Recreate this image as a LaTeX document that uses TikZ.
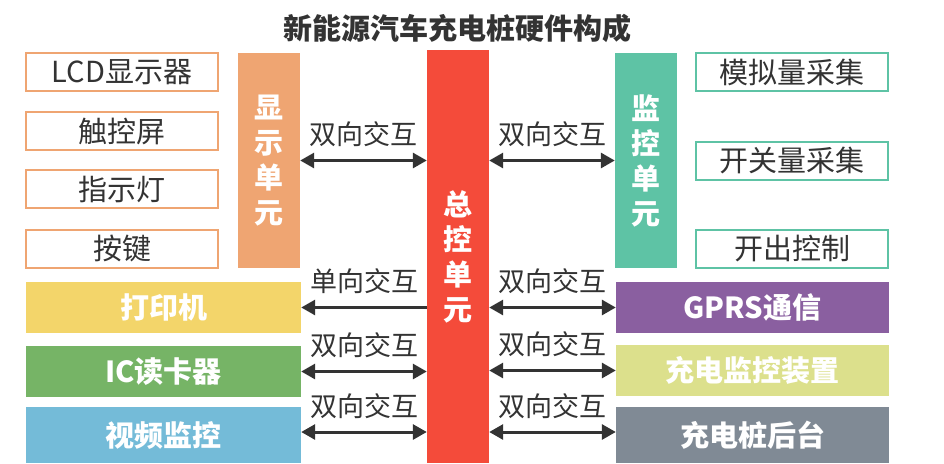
\documentclass[tikz,border=0pt]{standalone}
\usepackage{fontspec}
\setmainfont{Noto Sans CJK SC}
\usetikzlibrary{arrows.meta, positioning, calc}
\definecolor{pileOrange}{HTML}{EFA572}
\definecolor{pileRed}{HTML}{F44B3A}
\definecolor{pileTeal}{HTML}{5EC3A5}
\definecolor{pileYellow}{HTML}{F3D56A}
\definecolor{pileGreen}{HTML}{76B466}
\definecolor{pileBlue}{HTML}{74BBD8}
\definecolor{pilePurple}{HTML}{8A5FA0}
\definecolor{pileLime}{HTML}{DCE08C}
\definecolor{pileSlate}{HTML}{808A95}
\definecolor{pileText}{HTML}{333333}
\tikzset{
  outbox/.style  = {draw=#1, line width=2pt, fill=white, minimum width=192pt,
                    minimum height=38pt, inner sep=0pt,
                    font=\fontsize{29}{35}\selectfont, text=pileText},
  colbar/.style  = {fill=#1, inner sep=0pt, text=white, align=center,
                    font=\fontsize{29}{35}\selectfont\bfseries},
  unitbar/.style = {colbar=#1, minimum width=62pt},
  wide/.style    = {colbar=#1, minimum width=275pt, minimum height=51pt},
  twoway/.style  = {{Triangle[length=14pt,width=15pt]}-{Triangle[length=14pt,width=15pt]},
                    line width=3pt, pileText},
  oneway/.style  = {-{Triangle[length=14pt,width=15pt]}, line width=3pt, pileText},
  lbl/.style     = {font=\fontsize{27}{30}\selectfont, text=pileText,
                    inner sep=0pt, above=12pt},
}

\begin{document}
\begin{tikzpicture}[x=1pt,y=1pt]
  \useasboundingbox (0,0) rectangle (944,-463);
  \node[font=\fontsize{29}{35}\selectfont\bfseries, text=pileText] (title) at (457,-28) {新能源汽车充电桩硬件构成};
  % units
  \node[unitbar=pileOrange, minimum height=215pt] (disp) at (269,-160.5) {显\\示\\单\\元};
  \node[unitbar=pileRed,    minimum height=413pt] (main) at (458,-256.5) {总\\控\\单\\元};
  \node[unitbar=pileTeal,   minimum height=215pt] (mon)  at (646,-160.5) {监\\控\\单\\元};
  % parts of the display and monitor units
  \foreach \n/\y/\t in {lcd/72/LCD显示器, touch/131/触控屏, lamp/189/指示灯, key/248.5/按键}
    \node[outbox=pileOrange] (\n) at (122,-\y) {\t};
  \foreach \n/\y/\t in {ana/72/模拟量采集, dig/160.5/开关量采集, out/248.5/开出控制}
    \node[outbox=pileTeal] (\n) at (792,-\y) {\t};
  % peripherals
  \node[wide=pileYellow] (prn) at (163.5,-307.5) {打印机};
  \node[wide=pileGreen]  (ic)  at (163.5,-371.5) {IC读卡器};
  \node[wide=pileBlue, minimum height=56pt] (vid) at (163.5,-435) {视频监控};
  \node[wide=pilePurple, minimum width=273pt] (gprs) at (752.5,-307.5) {GPRS通信};
  \node[wide=pileLime,   minimum width=273pt] (chg)  at (752.5,-370.5) {充电监控装置};
  \node[wide=pileSlate,  minimum width=273pt, minimum height=56pt] (back) at (752.5,-435) {充电桩后台};
  % links
  \draw[twoway] (disp.east) -- (disp.east -| main.west) node[midway, lbl] {双向交互};
  \draw[twoway] (main.east |- mon.west) -- (mon.west) node[midway, lbl] {双向交互};
  \draw[oneway] (main.west |- prn.east) -- (prn.east) node[midway, lbl] {单向交互};
  \draw[twoway] (ic.east) -- (ic.east -| main.west) node[midway, lbl] {双向交互};
  \draw[twoway] ([yshift=3pt]vid.east) -- ([yshift=3pt]vid.east -| main.west) node[midway, lbl] {双向交互};
  \draw[twoway] (main.east |- gprs.west) -- (gprs.west) node[midway, lbl] {双向交互};
  \draw[twoway] (main.east |- chg.west) -- (chg.west) node[midway, lbl] {双向交互};
  \draw[twoway] ([yshift=3pt]main.east |- back.west) -- ([yshift=3pt]back.west) node[midway, lbl] {双向交互};
\end{tikzpicture}
\end{document}
